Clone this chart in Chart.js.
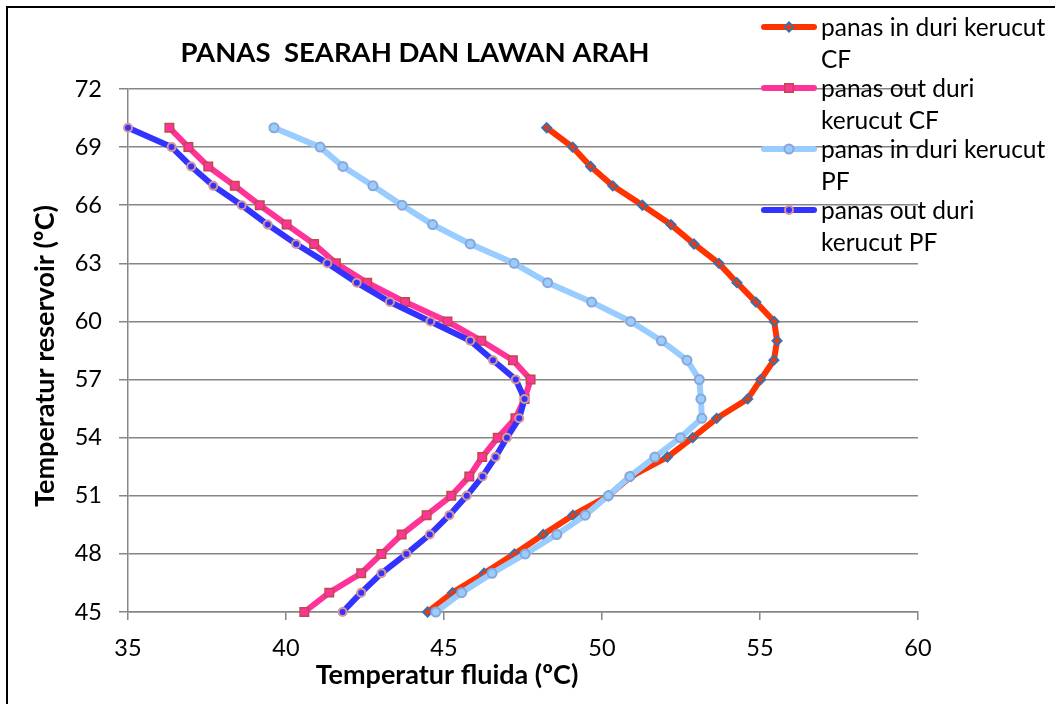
<!DOCTYPE html>
<html>
<head>
<meta charset="utf-8">
<script src="https://cdn.jsdelivr.net/npm/chart.js@4.4.1/dist/chart.umd.min.js"></script>
<style>
  body { margin: 0; background: #fff; }
  #box { width: 1055px; height: 704px; }
</style>
</head>
<body>
<div id="box"><canvas id="myChart" width="1055" height="704"></canvas></div>
<script>
// temperatur reservoir (sumbu y)
const reservoir = [45, 46, 47, 48, 49, 50, 51, 52, 53, 54, 55, 56, 57, 58, 59, 60, 61, 62, 63, 64, 65, 66, 67, 68, 69, 70];

// temperatur fluida tiap seri (sumbu x), urut sesuai reservoir
const inCF = [44.48, 45.27, 46.27, 47.23, 48.14, 49.08, 50.20, 50.92, 52.07, 52.87, 53.63, 54.61, 55.02, 55.44, 55.54, 55.45, 54.87, 54.27, 53.70, 52.91, 52.18, 51.28, 50.34, 49.64, 49.07, 48.25];
const outCF = [40.58, 41.37, 42.38, 43.02, 43.66, 44.45, 45.23, 45.80, 46.21, 46.70, 47.26, 47.55, 47.74, 47.18, 46.18, 45.11, 43.77, 42.57, 41.58, 40.89, 40.02, 39.17, 38.38, 37.54, 36.91, 36.31];
const inPF = [44.74, 45.56, 46.52, 47.57, 48.57, 49.47, 50.20, 50.88, 51.67, 52.48, 53.16, 53.13, 53.08, 52.69, 51.88, 50.91, 49.67, 48.28, 47.22, 45.83, 44.64, 43.67, 42.75, 41.80, 41.08, 39.62];
const outPF = [41.79, 42.38, 43.02, 43.81, 44.55, 45.17, 45.72, 46.22, 46.63, 46.99, 47.38, 47.55, 47.27, 46.55, 45.83, 44.57, 43.29, 42.24, 41.31, 40.32, 39.42, 38.60, 37.70, 37.00, 36.38, 35.00];

const seriesNames = ['panas in duri kerucut CF', 'panas out duri kerucut CF', 'panas in duri kerucut PF', 'panas out duri kerucut PF'];

const xTicks = [35, 40, 45, 50, 55, 60];
const yTicks = [45, 48, 51, 54, 57, 60, 63, 66, 69, 72];

const chartTitle = 'PANAS  SEARAH DAN LAWAN ARAH';
const xTitle = 'Temperatur fluida (ºC)';
const yTitle = 'Temperatur reservoir (ºC)';

const FONT = 'Lato, Carlito, "Open Sans", sans-serif';
const GRID = '#868686';

function toPoints(xs) {
  return xs.map((x, i) => ({ x: x, y: reservoir[i] }));
}

const datasets = [
  {
    label: seriesNames[0],
    data: toPoints(inCF),
    borderColor: '#FF3300',
    backgroundColor: '#FF3300',
    pointStyle: 'rectRot',
    pointRadius: 4.5,
    pointBorderColor: '#3D6EA8',
    pointBorderWidth: 2,
    order: 4
  },
  {
    label: seriesNames[1],
    data: toPoints(outCF),
    borderColor: '#FF3399',
    backgroundColor: '#FF3399',
    pointStyle: 'rect',
    pointRadius: 6,
    pointBorderColor: '#BE4B48',
    pointBorderWidth: 1.5,
    order: 3
  },
  {
    label: seriesNames[2],
    data: toPoints(inPF),
    borderColor: '#99CCFF',
    backgroundColor: '#99CCFF',
    pointStyle: 'circle',
    pointRadius: 4.5,
    pointBorderColor: '#8AA6D6',
    pointBorderWidth: 2,
    order: 2
  },
  {
    label: seriesNames[3],
    data: toPoints(outPF),
    borderColor: '#3333FF',
    backgroundColor: '#3333FF',
    pointStyle: 'circle',
    pointRadius: 4,
    pointBorderColor: '#D99694',
    pointBorderWidth: 2,
    order: 1
  }
];

/**
 * Bingkai, judul, judul sumbu dan legenda digambar sendiri
 */
const framePlugin = {
  id: 'frame',
  beforeDraw(chart) {
    const c = chart.ctx;
    c.save();
    c.fillStyle = '#fff';
    c.fillRect(0, 0, chart.width, chart.height);
    c.strokeStyle = '#000';
    c.lineWidth = 2;
    c.beginPath();
    c.moveTo(7, chart.height + 2);
    c.lineTo(7, 7);
    c.lineTo(chart.width + 2, 7);
    c.stroke();
    c.restore();
  },
  afterDraw(chart) {
    const c = chart.ctx;
    c.save();
    c.fillStyle = '#000';

    // judul
    c.font = 'bold 27.5px ' + FONT;
    c.textAlign = 'center';
    c.textBaseline = 'middle';
    c.fillText(chartTitle, 415, 53);

    // judul sumbu x
    c.font = 'bold 27px ' + FONT;
    c.fillText(xTitle, 447, 675);

    // judul sumbu y
    c.save();
    c.translate(45, 356);
    c.rotate(-Math.PI / 2);
    c.fillText(yTitle, 0, 0);
    c.restore();

    // legenda
    c.font = '24.5px ' + FONT;
    c.textAlign = 'left';
    const maxW = 232;
    chart.data.datasets.forEach((ds, i) => {
      const y0 = 27 + i * 61;
      c.strokeStyle = ds.borderColor;
      c.lineWidth = 6;
      c.lineCap = 'round';
      c.beginPath();
      c.moveTo(764, y0);
      c.lineTo(814, y0);
      c.stroke();
      c.fillStyle = ds.backgroundColor;
      c.strokeStyle = ds.pointBorderColor;
      c.lineWidth = ds.pointBorderWidth;
      Chart.helpers.drawPoint(c, {
        pointStyle: ds.pointStyle,
        radius: ds.pointRadius,
        rotation: 0,
        borderWidth: ds.pointBorderWidth
      }, 789, y0);

      // bungkus teks
      const words = ds.label.split(' ');
      const lines = [];
      let line = '';
      words.forEach(w => {
        const test = line ? line + ' ' + w : w;
        if (c.measureText(test).width > maxW && line) {
          lines.push(line);
          line = w;
        } else {
          line = test;
        }
      });
      lines.push(line);
      c.fillStyle = '#000';
      lines.forEach((l, k) => c.fillText(l, 821, y0 + 1 + k * 32));
    });
    c.restore();
  }
};

var ctx = document.getElementById('myChart');
var tempChart = new Chart(ctx, {
  type: 'scatter',
  data: { datasets: datasets },
  options: {
    responsive: false,
    animation: false,
    showLine: true,
    layout: { padding: { top: 89, right: 137, bottom: 0, left: 0 } },
    elements: {
      line: { borderWidth: 6, tension: 0, borderJoinStyle: 'round', borderCapStyle: 'round' }
    },
    datasets: { scatter: { clip: false } },
    plugins: {
      legend: { display: false },
      title: { display: false },
      tooltip: { enabled: false }
    },
    scales: {
      x: {
        type: 'linear',
        min: xTicks[0],
        max: xTicks[xTicks.length - 1],
        afterFit: (s) => { s.height = 92; },
        afterBuildTicks: (s) => { s.ticks = xTicks.map(v => ({ value: v })); },
        ticks: { color: '#000', font: { family: FONT, size: 23.5 }, padding: 14, maxRotation: 0 },
        grid: { drawOnChartArea: false, drawTicks: true, tickLength: 8, color: GRID, lineWidth: 1.5 },
        border: { color: GRID, width: 1.5 }
      },
      y: {
        type: 'linear',
        min: yTicks[0],
        max: yTicks[yTicks.length - 1],
        afterFit: (s) => { s.width = 128; },
        afterBuildTicks: (s) => { s.ticks = yTicks.map(v => ({ value: v })); },
        ticks: { color: '#000', font: { family: FONT, size: 23.5 }, padding: 17 },
        grid: { color: GRID, lineWidth: 1.5, tickLength: 9 },
        border: { color: GRID, width: 1.5 }
      }
    }
  },
  plugins: [framePlugin]
});
</script>
</body>
</html>
